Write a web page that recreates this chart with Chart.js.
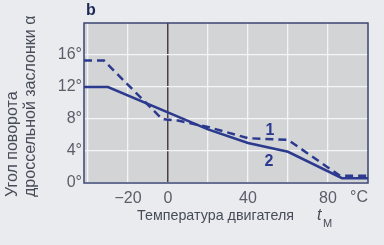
<!DOCTYPE html>
<html>
<head>
<meta charset="utf-8">
<script src="https://cdn.jsdelivr.net/npm/chart.js@4.4.1/dist/chart.umd.min.js"></script>
<style>
    html, body { margin: 0; padding: 0; background: #e9ebee; }
    #wrap { width: 384px; height: 245px; position: relative; }
</style>
</head>
<body>
<div id="wrap"><canvas id="throttleChart"></canvas></div>
<script>
// curve 1 (dashed) and curve 2 (solid): engine temperature, °C -> throttle angle, degrees
const tempCurve1 = [-42, -32, -3, 5, 20, 40, 60, 86, 100];
const angleCurve1 = [15.3, 15.3, 8.0, 7.8, 7.0, 5.6, 5.4, 0.9, 0.9];
const tempCurve2 = [-42, -30, 20, 40, 60, 87, 100];
const angleCurve2 = [12, 12, 6.7, 5.0, 3.9, 0.6, 0.6];
const xTickLabels = { '-20': '\u221220', '0': '0', '40': '40', '80': '80' };
const yTickLabels = ['0°', '4°', '8°', '12°', '16°'];

const lineColor = '#2b3a8e';
const fontFamily = "'Liberation Sans', Arial, sans-serif";

function toPoints(xs, ys) {
    return xs.map((x, i) => ({ x: x, y: ys[i] }));
}

const decorPlugin = {
    id: 'decor',
    beforeDraw(chart) {
        const { ctx, chartArea: a } = chart;
        ctx.save();
        ctx.fillStyle = '#e9ebee';
        ctx.fillRect(0, 0, chart.width, chart.height);
        ctx.fillStyle = '#d3d4d6';
        ctx.fillRect(a.left, a.top, a.right - a.left, a.bottom - a.top);
        ctx.restore();
    },
    beforeDatasetsDraw(chart) {
        const { ctx, chartArea: a } = chart;
        ctx.save();
        ctx.strokeStyle = '#3b4472';
        ctx.lineWidth = 1.5;
        ctx.strokeRect(a.left, a.top, a.right - a.left, a.bottom - a.top);
        ctx.restore();
    },
    afterDraw(chart) {
        const { ctx, scales } = chart;
        const xs = scales.x, ys = scales.y;
        ctx.save();
        // panel letter
        ctx.fillStyle = '#1f2755';
        ctx.font = 'bold 16px ' + fontFamily;
        ctx.textAlign = 'left';
        ctx.textBaseline = 'middle';
        ctx.fillText('b', 86, 11);
        // curve numbers
        ctx.fillStyle = lineColor;
        ctx.textAlign = 'center';
        ctx.fillText('1', xs.getPixelForValue(51), ys.getPixelForValue(6.6));
        ctx.fillText('2', xs.getPixelForValue(50.5), ys.getPixelForValue(2.7));
        // unit at end of x ticks
        ctx.fillStyle = '#5a5e68';
        ctx.font = '16px ' + fontFamily;
        ctx.fillText('°C', xs.getPixelForValue(95.5), 198);
        // x axis title
        ctx.fillStyle = '#474c58';
        ctx.font = '14.3px ' + fontFamily;
        ctx.textAlign = 'left';
        ctx.fillText('Температура двигателя', 137, 216);
        ctx.font = 'italic 16px ' + fontFamily;
        ctx.fillText('t', 317, 216);
        ctx.font = '11px ' + fontFamily;
        ctx.fillText('M', 323, 224);
        // y axis title, two lines, reading upward
        ctx.font = '16px ' + fontFamily;
        ctx.translate(0, 197);
        ctx.rotate(-Math.PI / 2);
        ctx.fillText('Угол поворота', 0, 13);
        ctx.fillText('дроссельной заслонки α', 0, 31);
        ctx.restore();
    }
};

const ctx = document.getElementById('throttleChart').getContext('2d');
const throttleChart = new Chart(ctx, {
    type: 'line',
    data: {
        datasets: [
            {
                label: '1',
                data: toPoints(tempCurve1, angleCurve1),
                borderColor: lineColor,
                borderWidth: 2.5,
                borderDash: [8, 5],
                pointRadius: 0,
                tension: 0
            },
            {
                label: '2',
                data: toPoints(tempCurve2, angleCurve2),
                borderColor: lineColor,
                borderWidth: 2.5,
                pointRadius: 0,
                tension: 0
            }
        ]
    },
    options: {
        responsive: true,
        maintainAspectRatio: false,
        animation: false,
        layout: { padding: { top: 23, right: 16, left: 0, bottom: 0 } },
        plugins: {
            legend: { display: false },
            tooltip: { enabled: false }
        },
        scales: {
            x: {
                type: 'linear',
                min: -42,
                max: 100,
                afterFit(scale) { scale.height = 62; },
                afterBuildTicks(scale) {
                    scale.ticks = [-40, -20, 0, 20, 40, 60, 80].map(v => ({ value: v }));
                },
                border: { display: false },
                grid: {
                    drawTicks: false,
                    color: c => c.tick && c.tick.value === 0 ? '#4b3f46' : '#f4f5f6',
                    lineWidth: c => c.tick && c.tick.value === 0 ? 1.5 : 1.3
                },
                ticks: {
                    padding: 6,
                    color: '#5a5e68',
                    font: { family: fontFamily, size: 16 },
                    maxRotation: 0,
                    autoSkip: false,
                    callback: v => xTickLabels[String(v)] || ''
                }
            },
            y: {
                min: 0,
                max: 20,
                afterFit(scale) { scale.width = 84; },
                afterBuildTicks(scale) {
                    scale.ticks = [0, 4, 8, 12, 16].map(v => ({ value: v }));
                },
                border: { display: false },
                grid: {
                    drawTicks: false,
                    color: '#f4f5f6',
                    lineWidth: 1.3
                },
                ticks: {
                    padding: 2,
                    color: '#5a5e68',
                    font: { family: fontFamily, size: 16 },
                    callback: v => yTickLabels[v / 4]
                }
            }
        }
    },
    plugins: [decorPlugin]
});
</script>
</body>
</html>
